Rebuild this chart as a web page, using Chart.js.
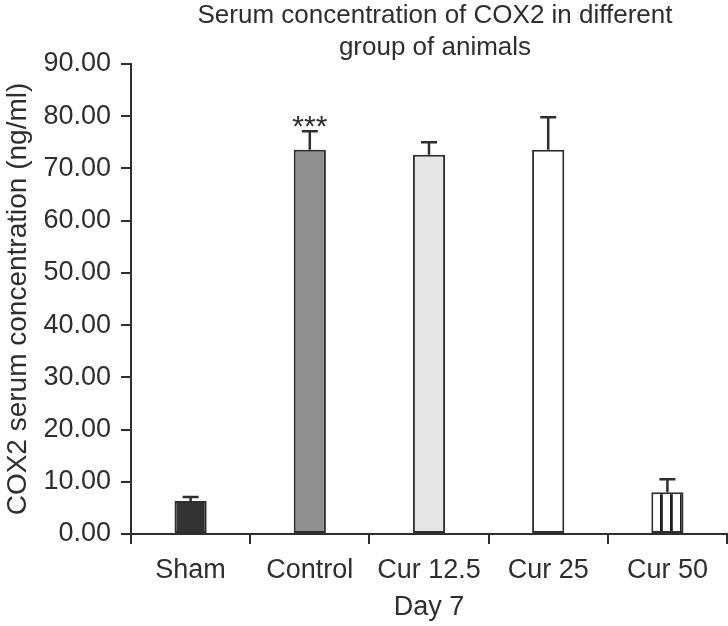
<!DOCTYPE html>
<html><head><meta charset="utf-8">
<script src="https://cdn.jsdelivr.net/npm/chart.js@4/dist/chart.umd.min.js"></script>
<style>html,body{margin:0;padding:0;background:#fff}#wrap{width:728px;height:626px;position:relative}</style>
</head><body><div id="wrap"><canvas id="c" width="728" height="626"></canvas></div>
<script>
const categories = ['Sham', 'Control', 'Cur 12.5', 'Cur 25', 'Cur 50'];
const values = [6.3, 73.6, 72.6, 73.6, 8.0];
const errors = [0.8, 3.5, 2.4, 6.2, 2.5];
const significance = ['', '***', '', '', ''];
const titleLines = ['Serum concentration of COX2 in different', 'group of animals'];
const yTitle = 'COX2 serum concentration (ng/ml)';
const xTitle = 'Day 7';

const FAM = '"Liberation Sans", Arial, Helvetica, sans-serif';
const INK = '#2e2e2e';

const canvas = document.getElementById('c');
const ctx0 = canvas.getContext('2d');
function stripePattern(){
  const p = document.createElement('canvas');
  p.width = 10; p.height = 10;
  const g = p.getContext('2d');
  g.fillStyle = '#ffffff'; g.fillRect(0,0,10,10);
  g.fillStyle = '#1e1e1e'; g.fillRect(0,0,2.8,10);
  return ctx0.createPattern(p, 'repeat');
}
const fills = ['#333333', '#8f8f8f', '#e6e6e6', '#ffffff', stripePattern()];

const extras = {
  id: 'extras',
  afterDatasetsDraw(chart){
    const ctx = chart.ctx, meta = chart.getDatasetMeta(0), y = chart.scales.y;
    ctx.save();
    ctx.strokeStyle = INK; ctx.lineWidth = 2.5; ctx.lineCap = 'butt';
    meta.data.forEach((bar, i) => {
      const top = y.getPixelForValue(values[i]);
      const cap = y.getPixelForValue(values[i] + errors[i]);
      ctx.beginPath();
      ctx.moveTo(bar.x, top); ctx.lineTo(bar.x, cap);
      ctx.moveTo(bar.x - 8, cap); ctx.lineTo(bar.x + 8, cap);
      ctx.stroke();
      if (significance[i]) {
        ctx.fillStyle = INK;
        ctx.font = '30px ' + FAM;
        ctx.textAlign = 'center'; ctx.textBaseline = 'alphabetic';
        ctx.fillText(significance[i], bar.x, cap + 5);
      }
    });
    ctx.restore();
  },
  afterDraw(chart){
    const ctx = chart.ctx;
    ctx.save();
    ctx.fillStyle = INK;
    ctx.font = '26px ' + FAM;
    ctx.textAlign = 'center'; ctx.textBaseline = 'alphabetic';
    titleLines.forEach((t, i) => ctx.fillText(t, 435, 23 + i * 32));
    ctx.restore();
  }
};

new Chart(canvas, {
  type: 'bar',
  data: {
    labels: categories,
    datasets: [{
      data: values,
      backgroundColor: fills,
      borderColor: INK,
      borderWidth: 2,
      borderSkipped: false,
      categoryPercentage: 1,
      barPercentage: 0.27
    }]
  },
  options: {
    responsive: false,
    devicePixelRatio: 1,
    animation: false,
    layout: { padding: { top: 64, right: 1, left: 0, bottom: 0 } },
    plugins: { legend: { display: false }, tooltip: { enabled: false }, title: { display: false } },
    scales: {
      x: {
        offset: true,
        grid: { drawOnChartArea: false, drawTicks: true, tickLength: 10, color: INK, lineWidth: 2, offset: true },
        border: { display: true, color: INK, width: 2 },
        ticks: { color: INK, font: { size: 27, family: FAM }, padding: 10, maxRotation: 0, autoSkip: false },
        title: { display: true, text: xTitle, color: INK, font: { size: 27, family: FAM }, padding: { top: 4, bottom: 2 } },
        afterFit: s => { s.height = 92; }
      },
      y: {
        min: 0, max: 90,
        ticks: { stepSize: 10, color: INK, font: { size: 27, family: FAM }, padding: 10, callback: v => Number(v).toFixed(2) },
        grid: { drawOnChartArea: false, drawTicks: true, tickLength: 10, color: INK, lineWidth: 2 },
        border: { display: true, color: INK, width: 2 },
        title: { display: true, text: yTitle, color: INK, font: { size: 28, family: FAM }, padding: { top: 1, bottom: 0 } },
        afterFit: s => { s.width = 131; }
      }
    }
  },
  plugins: [extras]
});
</script>
</body></html>
